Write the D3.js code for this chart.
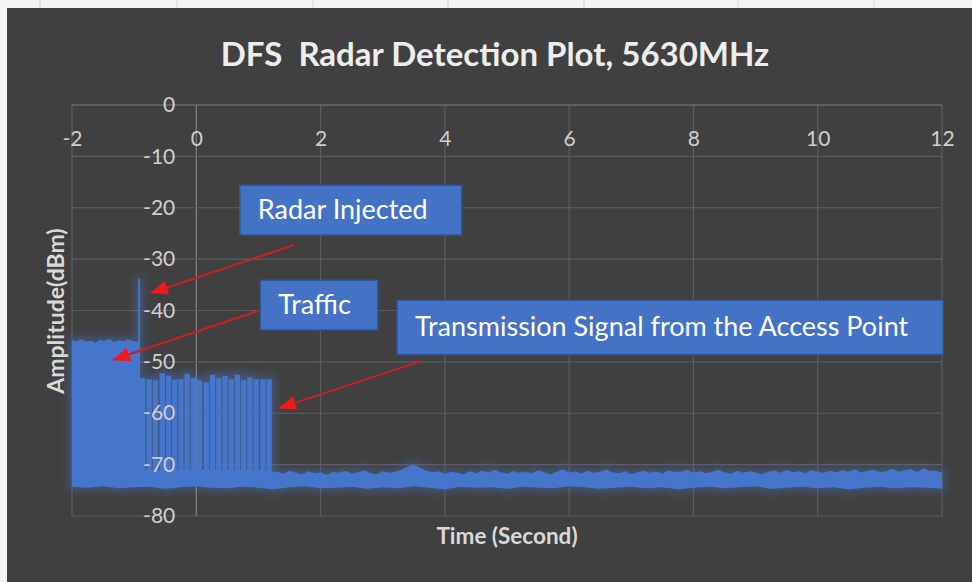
<!DOCTYPE html>
<html>
<head>
<meta charset="utf-8">
<script src="https://cdn.jsdelivr.net/npm/d3@7"></script>
<style>
  body { margin: 0; background: #f3f3f3; }
  svg { display: block; font-family: Lato, "Open Sans", sans-serif; }
</style>
</head>
<body>
<div id="chart"></div>
<script>
const wh = 972,
    ht = 582;

// axis ticks
const xTicks = [-2, 0, 2, 4, 6, 8, 10, 12]
const yTicks = [0, -10, -20, -30, -40, -50, -60, -70, -80]

// traffic block (before radar), sampled every 0.075 s from -2
const trafficStart = -2, trafficStep = 0.075
const trafficTop = [-45.8, -46.0, -45.6, -46.1, -45.9, -46.3, -45.7, -46.0, -45.5, -46.2, -45.8, -46.0, -45.6, -45.9, -46.1]

// radar pulse
const radarTime = [-0.935, -0.905]
const radarPeak = -33.8

// AP transmission bursts
const burstStart = [-0.905, -0.80, -0.70, -0.59, -0.49, -0.39, -0.29, -0.19, -0.09, 0.01, 0.12,
                    0.22, 0.32, 0.42, 0.52, 0.62, 0.72, 0.82, 0.92, 1.03, 1.13]
const burstPeak = [-53.2, -53.4, -53.6, -52.2, -52.7, -53.5, -53.4, -52.3, -53.2, -53.6, -54.0,
                   -52.5, -53.2, -52.7, -53.4, -52.5, -53.6, -53.0, -53.4, -53.4, -53.4]
const burstWidth = 0.085
const burstGap = -71

// noise floor top after the bursts, every 0.1 s from 1.3
const floorStart = 1.3, floorStep = 0.1
const floorTop = [
  -71.4, -71.8, -71.2, -71.6, -71.9, -71.3, -71.7, -71.5, -72.0, -71.4,
  -71.6, -71.2, -71.8, -71.5, -71.1, -71.7, -71.9, -71.3, -71.6, -71.4,
  -71.0, -70.4, -70.0, -70.6, -71.2, -71.5, -71.3, -71.8, -71.4, -71.6,
  -71.9, -71.3, -71.7, -71.2, -71.6, -71.0, -71.5, -71.8, -71.3, -71.6,
  -71.4, -71.7, -71.1, -71.5, -71.9, -71.4, -70.9, -71.6, -71.3, -71.8,
  -71.2, -71.6, -71.4, -71.0, -71.5, -71.7, -71.3, -71.9, -71.5, -71.2,
  -71.6, -71.3, -71.8, -71.1, -71.5, -71.4, -71.0, -71.6, -71.3, -71.7,
  -71.4, -71.0, -71.5, -71.8, -71.2, -71.6, -71.3, -71.5, -71.9, -71.4,
  -71.2, -71.6, -71.0, -71.5, -71.3, -71.7, -71.1, -71.4, -71.6, -71.2,
  -71.5, -71.1, -71.4, -70.9, -71.6, -71.2, -71.0, -71.5, -71.3, -70.8,
  -71.4, -71.1, -70.9, -71.5, -70.7, -71.3, -71.2, -71.6]

// lower edge of the noise, every 0.25 s from -2
const lowStart = -2, lowStep = 0.25
const floorLow = [
  -74.3, -74.5, -74.2, -74.6, -74.4, -74.3, -74.7, -74.4, -74.2, -74.5,
  -74.6, -74.3, -74.5, -74.8, -74.4, -74.2, -74.6, -74.5, -74.3, -74.7,
  -74.4, -74.6, -74.2, -74.5, -74.8, -74.3, -74.5, -74.4, -74.7, -74.3,
  -74.5, -74.6, -74.2, -74.4, -74.7, -74.5, -74.3, -74.6, -74.4, -74.8,
  -74.5, -74.3, -74.6, -74.4, -74.2, -74.7, -74.5, -74.3, -74.6, -74.4,
  -74.8, -74.5, -74.3, -74.6, -74.4, -74.5, -74.7]

// callouts, in data units: [x0, x1, yTop, yBottom], arrow [fromX, fromY, toX, toY]
const notes = [
  { text: "Radar Injected", box: [0.70, 4.27, -15.6, -25.3], arrow: [1.56, -27.3, -0.73, -36.6] },
  { text: "Traffic", box: [1.03, 2.92, -34.1, -43.8], arrow: [0.99, -40.1, -1.34, -49.6] },
  { text: "Transmission Signal from the Access Point", box: [3.23, 12.02, -38.0, -48.6], arrow: [3.63, -49.8, 1.33, -59.0] }
]

const svg = d3.select("#chart")
    .append("svg")
    .attr("width", wh)
    .attr("height", ht)

// the excel sheet peeking at the top/left
svg.append("rect").attr("width", wh).attr("height", ht).attr("fill", "#f4f4f4")
;[40, 177, 313, 448, 584, 738, 874].forEach(function(px) {
    svg.append("line").attr("x1", px).attr("x2", px).attr("y1", 0).attr("y2", 8)
        .attr("stroke", "#d4d4d4")
})
svg.append("rect")
    .attr("x", 7).attr("y", 8)
    .attr("width", wh - 7).attr("height", ht - 8)
    .attr("fill", "#404040")

const defs = svg.append("defs")
defs.append("filter").attr("id", "glow")
    .attr("x", "-10%").attr("y", "-10%").attr("width", "120%").attr("height", "120%")
    .append("feGaussianBlur").attr("stdDeviation", 5)
defs.append("marker")
    .attr("id", "head")
    .attr("markerUnits", "userSpaceOnUse")
    .attr("viewBox", "0 0 18 14")
    .attr("markerWidth", 18).attr("markerHeight", 14)
    .attr("refX", 17).attr("refY", 7)
    .attr("orient", "auto")
    .append("path").attr("d", "M0,0L18,7L0,14Z").attr("fill", "#f01818")

var x = d3.scaleLinear().domain([-2, 12]).range([72, 942])
var y = d3.scaleLinear().domain([-80, 0]).range([516, 105])

// grid
svg.append("g").selectAll("line").data(xTicks).enter().append("line")
    .attr("x1", d => x(d)).attr("x2", d => x(d))
    .attr("y1", y(0)).attr("y2", y(-80))
    .attr("stroke", d => d == 0 ? "#858585" : "#5c5c5c")
    .attr("stroke-width", 1.2)
svg.append("g").selectAll("line").data(yTicks).enter().append("line")
    .attr("x1", x(-2)).attr("x2", x(12))
    .attr("y1", d => y(d)).attr("y2", d => y(d))
    .attr("stroke", d => d == 0 ? "#7a7a7a" : "#5c5c5c")
    .attr("stroke-width", 1.2)

// signal envelope
var pts = [[trafficStart, floorLow[0]]]
trafficTop.forEach(function(v, i) { pts.push([trafficStart + i * trafficStep, v]) })
pts.push([radarTime[0], trafficTop[trafficTop.length - 1]])
pts.push([radarTime[0], radarPeak])
pts.push([radarTime[1], radarPeak])
burstStart.forEach(function(s, i) {
    if (i > 0) pts.push([s, burstGap])
    pts.push([s, burstPeak[i]])
    pts.push([s + burstWidth, burstPeak[i]])
    pts.push([s + burstWidth, burstGap])
})
var lastEnd = burstStart[burstStart.length - 1] + burstWidth
pts.push([lastEnd, floorTop[0]])
floorTop.forEach(function(v, i) { pts.push([floorStart + i * floorStep, v]) })
for (var j = floorLow.length - 1; j >= 0; j--) {
    pts.push([lowStart + j * lowStep, floorLow[j]])
}

var line = d3.line().x(d => x(d[0])).y(d => y(d[1]))

svg.append("path")
    .attr("d", line(pts) + "Z")
    .attr("fill", "#4a7bd6")
    .attr("stroke", "#4a7bd6")
    .attr("stroke-width", 6)
    .attr("opacity", 0.4)
    .attr("filter", "url(#glow)")
svg.append("path")
    .attr("d", line(pts) + "Z")
    .attr("fill", "#4676cc")

// axes
var xAxis = svg.append("g")
    .attr("transform", "translate(0," + y(0) + ")")
    .call(d3.axisBottom(x).tickValues(xTicks).tickSize(0).tickPadding(26).tickFormat(d => String(d)))
var yAxis = svg.append("g")
    .attr("transform", "translate(" + x(0) + ",0)")
    .call(d3.axisLeft(y).tickValues(yTicks).tickSize(0).tickPadding(21).tickFormat(d => String(d)))
;[xAxis, yAxis].forEach(function(g) {
    g.select(".domain").remove()
    g.selectAll("text")
        .attr("fill", "#cfcfcf")
        .style("font-family", "Lato, sans-serif")
        .style("font-size", "21px")
})

// titles
svg.append("text")
    .attr("x", 495).attr("y", 66)
    .attr("text-anchor", "middle")
    .attr("fill", "#ededed")
    .style("font-size", "33px").style("font-weight", "bold")
    .style("white-space", "pre")
    .text("DFS  Radar Detection Plot, 5630MHz")

svg.append("text")
    .attr("transform", "translate(64,311) rotate(-90)")
    .attr("text-anchor", "middle")
    .attr("fill", "#d9d9d9")
    .style("font-size", "23px").style("font-weight", "bold")
    .text("Amplitude(dBm)")

svg.append("text")
    .attr("x", 507).attr("y", 544)
    .attr("text-anchor", "middle")
    .attr("fill", "#d9d9d9")
    .style("font-size", "22.5px").style("font-weight", "bold")
    .text("Time (Second)")

// callouts
var note = svg.selectAll(".note").data(notes).enter().append("g").attr("class", "note")
note.append("line")
    .attr("x1", d => x(d.arrow[0])).attr("y1", d => y(d.arrow[1]))
    .attr("x2", d => x(d.arrow[2])).attr("y2", d => y(d.arrow[3]))
    .attr("stroke", "#c8202a")
    .attr("stroke-width", 2)
    .attr("marker-end", "url(#head)")
note.append("rect")
    .attr("x", d => x(d.box[0])).attr("y", d => y(d.box[2]))
    .attr("width", d => x(d.box[1]) - x(d.box[0]))
    .attr("height", d => y(d.box[3]) - y(d.box[2]))
    .attr("fill", "#4472c4")
    .attr("stroke", "#2f5597")
    .attr("stroke-width", 1.5)
note.append("text")
    .attr("x", d => x(d.box[0]) + 18)
    .attr("y", d => (y(d.box[2]) + y(d.box[3])) / 2 + 9)
    .attr("fill", "#ffffff")
    .style("font-size", "27px")
    .text(d => d.text)
</script>
</body>
</html>
